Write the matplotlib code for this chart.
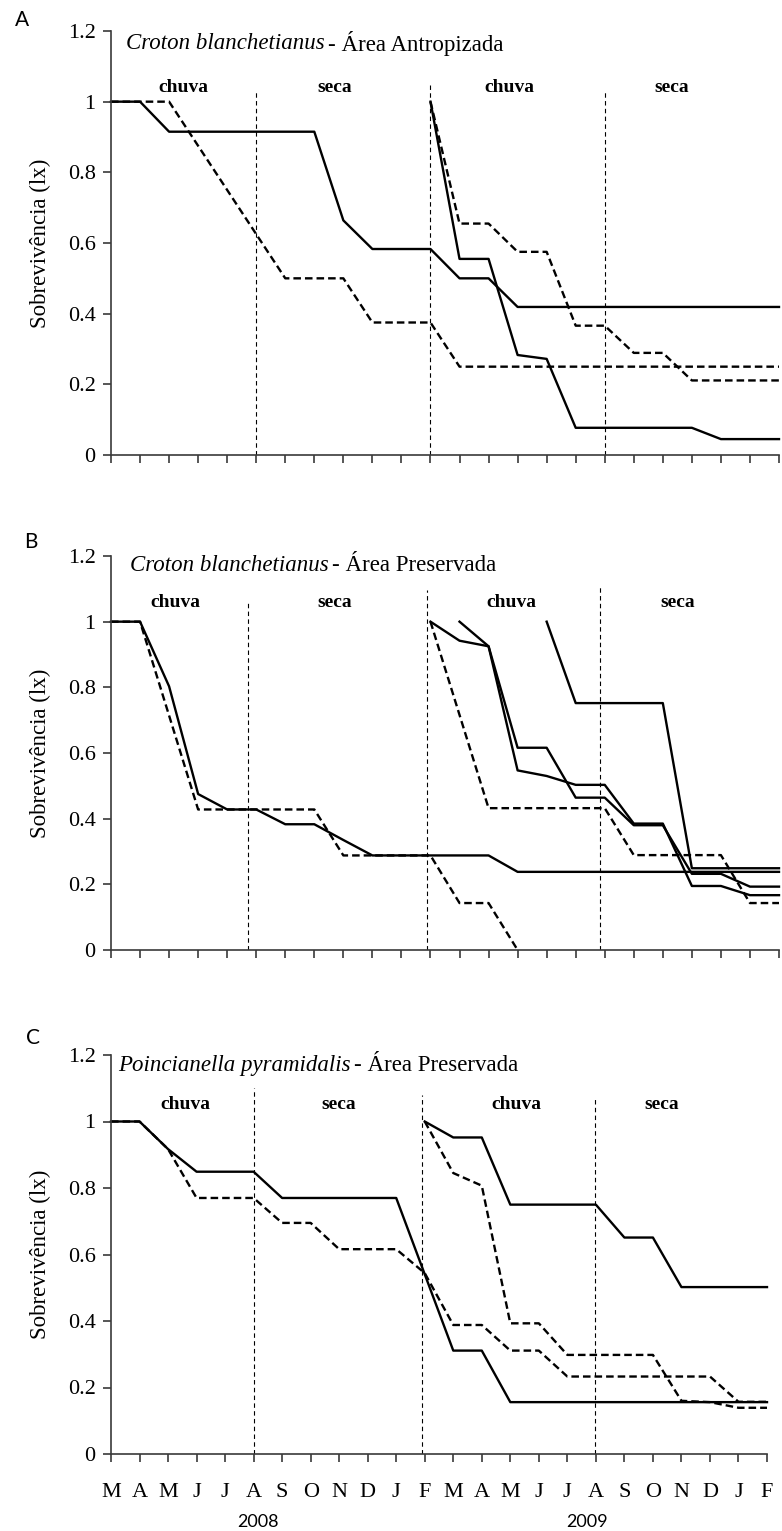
import matplotlib
matplotlib.use('Agg')
import matplotlib.pyplot as plt

months = ['M', 'A', 'M', 'J', 'J', 'A', 'S', 'O', 'N', 'D', 'J', 'F',
          'M', 'A', 'M', 'J', 'J', 'A', 'S', 'O', 'N', 'D', 'J', 'F']
years = ['2008', '2009']
seasons = ['chuva', 'seca', 'chuva', 'seca']
yticks = [0, 0.2, 0.4, 0.6, 0.8, 1.0, 1.2]
ytick_labels = ['0', '0.2', '0.4', '0.6', '0.8', '1', '1.2']

# Panel A - Croton blanchetianus, Área Antropizada
a1_x = list(range(0, 24))
a1_y = [1, 1, 0.915, 0.915, 0.915, 0.915, 0.915, 0.915, 0.664, 0.583, 0.583, 0.583,
        0.5, 0.5, 0.419, 0.419, 0.419, 0.419, 0.419, 0.419, 0.419, 0.419, 0.419, 0.419]
a2_x = [0, 1, 2, 6, 7, 8, 9, 10, 11, 12, 13, 14, 15, 16, 17, 18, 19, 20, 21, 22, 23]
a2_y = [1, 1, 1, 0.5, 0.5, 0.5, 0.375, 0.375, 0.375, 0.25, 0.25, 0.25, 0.25, 0.25,
        0.25, 0.25, 0.25, 0.25, 0.25, 0.25, 0.25]
a3_x = list(range(11, 24))
a3_y = [1, 0.555, 0.555, 0.283, 0.272, 0.077, 0.077, 0.077, 0.077, 0.077, 0.045, 0.045, 0.045]
a4_x = list(range(11, 24))
a4_y = [1, 0.655, 0.655, 0.575, 0.575, 0.366, 0.366, 0.289, 0.289, 0.211, 0.211, 0.211, 0.211]

# Panel B - Croton blanchetianus, Área Preservada
b1_x = list(range(0, 24))
b1_y = [1, 1, 0.803, 0.475, 0.428, 0.428, 0.383, 0.383, 0.335, 0.288, 0.288, 0.288,
        0.288, 0.288, 0.238, 0.238, 0.238, 0.238, 0.238, 0.238, 0.238, 0.238, 0.238, 0.238]
b2_x = [0, 1, 3, 4, 5, 6, 7, 8, 9, 10, 11, 12, 13, 14]
b2_y = [1, 1, 0.428, 0.428, 0.428, 0.428, 0.428, 0.288, 0.288, 0.288, 0.288, 0.143, 0.143, 0]
b3_x = list(range(11, 24))
b3_y = [1, 0.942, 0.925, 0.547, 0.530, 0.503, 0.503, 0.385, 0.385, 0.195, 0.195, 0.167, 0.167]
b4_x = list(range(12, 24))
b4_y = [1, 0.925, 0.616, 0.616, 0.464, 0.464, 0.38, 0.38, 0.232, 0.232, 0.193, 0.193]
b5_x = list(range(15, 24))
b5_y = [1, 0.752, 0.752, 0.752, 0.752, 0.249, 0.249, 0.249, 0.249]
b6_x = [11, 13, 14, 15, 16, 17, 18, 19, 20, 21, 22, 23]
b6_y = [1, 0.432, 0.432, 0.432, 0.432, 0.432, 0.289, 0.289, 0.289, 0.289, 0.143, 0.143]

# Panel C - Poincianella pyramidalis, Área Preservada
c1_x = [0, 1, 2, 3, 4, 5, 6, 7, 8, 9, 10, 12, 13, 14, 15, 16, 17, 18, 19, 20, 21, 22, 23]
c1_y = [1, 1, 0.917, 0.849, 0.849, 0.849, 0.77, 0.77, 0.77, 0.77, 0.77,
        0.311, 0.311, 0.156, 0.156, 0.156, 0.156, 0.156, 0.156, 0.156, 0.156, 0.156, 0.156]
c2_x = list(range(0, 24))
c2_y = [1, 1, 0.917, 0.77, 0.77, 0.77, 0.695, 0.695, 0.616, 0.616, 0.616, 0.544,
        0.388, 0.388, 0.311, 0.311, 0.233, 0.233, 0.233, 0.233, 0.233, 0.233, 0.157, 0.157]
c3_x = list(range(11, 24))
c3_y = [1, 0.952, 0.952, 0.75, 0.75, 0.75, 0.75, 0.651, 0.651, 0.502, 0.502, 0.502, 0.502]
c4_x = list(range(11, 24))
c4_y = [1, 0.845, 0.807, 0.393, 0.393, 0.298, 0.298, 0.298, 0.298, 0.16, 0.156, 0.139, 0.139]

SERIF = ['Liberation Serif', 'DejaVu Serif']
SANS = ['Lato', 'DejaVu Sans']
AXC = '#3a3a3a'

W, H = 782, 1531
fig = plt.figure(figsize=(W / 100, H / 100), dpi=100)


def px_axes(left, right, top, bottom):
    return fig.add_axes([left / W, 1 - bottom / H, (right - left) / W, (bottom - top) / H])


def setup(ax, show_xlabels, width_px):
    ax.set_xlim(0, 23)
    ax.set_ylim(0, 1.2)
    for s in ['top', 'right']:
        ax.spines[s].set_visible(False)
    for s in ['left', 'bottom']:
        ax.spines[s].set_linewidth(1.2)
        ax.spines[s].set_color(AXC)
    ax.set_yticks(yticks)
    ax.set_yticklabels(ytick_labels, family=SERIF, fontsize=16)
    ax.set_xticks(range(24))
    if show_xlabels:
        ax.set_xticklabels(months, family=SERIF, fontsize=16)
    else:
        ax.set_xticklabels([])
    ax.tick_params(axis='both', direction='out', length=6, width=1.2, color=AXC)
    ax.tick_params(axis='y', pad=5)
    ax.tick_params(axis='x', pad=15)
    ax.set_ylabel('Sobrevivência (lx)', family=SERIF, fontsize=16.5)
    ax.yaxis.set_label_coords((51 - 111) / width_px, 0.5)


def solid(ax, x, y):
    ax.plot(x, y, color='black', lw=1.7, clip_on=False)


def dashed(ax, x, y):
    ax.plot(x, y, color='black', lw=1.7, ls=(0, (3.2, 1.7)), clip_on=False)


def seasons_and_lines(ax, vlines, text_x, text_y):
    for vx, top in vlines:
        ax.plot([vx, vx], [0, top], color='black', lw=0.8, ls=(0, (4, 3)))
    for t, tx in zip(seasons, text_x):
        ax.text(tx, text_y, t, family=SERIF, fontsize=14, fontweight='bold',
                ha='center', va='center')


def title(ax, x, italic, rest, y):
    t = ax.text(x, y, italic, style='italic', family=SERIF, fontsize=16.5,
                ha='left', va='center')
    fig.canvas.draw()
    bb = t.get_window_extent()
    x_end = ax.transData.inverted().transform((bb.x1, bb.y0))[0]
    ax.text(x_end + 0.12, y, '- ' + rest, family=SERIF, fontsize=16.5,
            ha='left', va='center')


# ---- Panel A
axA = px_axes(111, 779, 31, 455)
setup(axA, False, 668)
seasons_and_lines(axA, [(5, 1.03), (11, 1.05), (17, 1.03)], [2.5, 7.7, 13.7, 19.3], 1.04)
solid(axA, a1_x, a1_y)
dashed(axA, a2_x, a2_y)
solid(axA, a3_x, a3_y)
dashed(axA, a4_x, a4_y)
fig.text(22 / W, 1 - 20 / H, 'A', family=SANS, fontsize=15, ha='center', va='center')

# ---- Panel B
axB = px_axes(111, 779, 556, 950)
setup(axB, False, 668)
seasons_and_lines(axB, [(4.7, 1.06), (10.87, 1.096), (16.84, 1.106)], [2.2, 7.7, 13.77, 19.5], 1.057)
solid(axB, b1_x, b1_y)
dashed(axB, b2_x, b2_y)
solid(axB, b3_x, b3_y)
solid(axB, b4_x, b4_y)
solid(axB, b5_x, b5_y)
dashed(axB, b6_x, b6_y)
fig.text(31 / W, 1 - 542 / H, 'B', family=SANS, fontsize=15, ha='center', va='center')

# ---- Panel C
axC = px_axes(111, 767, 1055, 1454)
setup(axC, True, 656)
seasons_and_lines(axC, [(5.03, 1.10), (10.9, 1.08), (16.97, 1.075)], [2.6, 8.0, 14.2, 19.3], 1.05)
solid(axC, c1_x, c1_y)
dashed(axC, c2_x, c2_y)
solid(axC, c3_x, c3_y)
dashed(axC, c4_x, c4_y)
fig.text(33 / W, 1 - 1038 / H, 'C', family=SANS, fontsize=15, ha='center', va='center')
for yr, xpos in zip(years, [5.15, 16.7]):
    axC.text(xpos, (1454 - 1522) / 332.5, yr, family=SANS, fontsize=13,
             ha='center', va='center', clip_on=False)

title(axA, 0.5, 'Croton blanchetianus', 'Área Antropizada', 1.165)
title(axB, 0.65, 'Croton blanchetianus', 'Área Preservada', 1.17)
title(axC, 0.25, 'Poincianella pyramidalis', 'Área Preservada', 1.167)

fig.savefig('out.png', dpi=100)
